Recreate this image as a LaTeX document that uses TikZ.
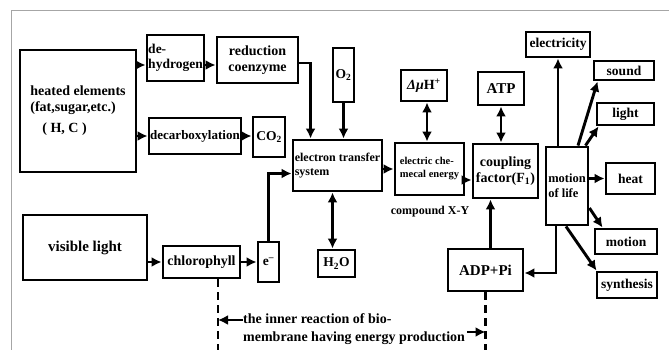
\documentclass[tikz,border=0pt]{standalone}
\usepackage{fontspec}
\setmainfont{Liberation Serif}
\usetikzlibrary{arrows.meta,positioning,calc}
\tikzset{
  bio/box/.style={draw, line width=2.9pt, inner sep=1.5pt, align=center, font=\bfseries\fontsize{14}{15.5}\selectfont},
  bio/small/.style={bio/box, font=\bfseries\fontsize{13.5}{15}\selectfont},
  bio/tiny/.style={bio/box, font=\bfseries\fontsize{10.5}{13}\selectfont},
  bio/flow/.style={line width=2.9pt, -{Latex[length=10pt,width=10pt]}},
  bio/both/.style={line width=2.9pt, {Latex[length=10pt,width=10pt]}-{Latex[length=10pt,width=10pt]}},
  bio/membrane/.style={line width=2.9pt, dash pattern=on 8pt off 5pt},
  bio/label/.style={font=\bfseries\fontsize{14}{18}\selectfont, align=left, inner sep=0pt}
}

\begin{document}
\begin{tikzpicture}[x=1pt, y=-1pt]
  \useasboundingbox (0,0) rectangle (669,350);
  \draw[gray!70, line width=1pt] (11,350) -- (11,11) -- (669,11);

  % sources
  \node[bio/box, minimum width=116pt, minimum height=122pt, align=left] (heated) at (78,111)
    {heated elements\\(fat,sugar,etc.)\\[6pt]\hspace*{12pt}( H, C )};
  \node[bio/box, minimum width=124pt, minimum height=65pt, font=\bfseries\fontsize{15}{17}\selectfont] (vis) at (85,247.5) {visible light};

  % first steps
  \node[bio/small, minimum width=57pt, minimum height=46pt, align=left, inner sep=0pt] (dehyd) at (175.5,58) {de-\\hydrogen};
  \node[bio/box, minimum width=81pt, minimum height=46pt] (reduc) at (257.5,60) {reduction\\coenzyme};
  \node[bio/small, minimum width=92pt, minimum height=36pt, inner sep=0pt, font=\bfseries\fontsize{13}{15}\selectfont] (decarb) at (195,136) {decarboxylation};
  \node[bio/small, minimum width=32pt, minimum height=40pt, inner sep=0pt] (co2) at (269,137) {CO\textsubscript{2}};
  \node[bio/box, minimum width=77pt, minimum height=32pt] (chloro) at (201.5,262) {chlorophyll};
  \node[bio/small, minimum width=21pt, minimum height=40pt, inner sep=0pt] (eminus) at (268.5,262) {e\textsuperscript{–}};

  % membrane
  \node[bio/small, minimum width=89pt, minimum height=51pt, align=left, font=\bfseries\fontsize{12}{14}\selectfont] (ets) at (337.5,165.5) {electron transfer\\system};
  \node[bio/small, minimum width=21pt, minimum height=54pt, inner sep=0pt] (o2) at (343.5,75) {O\textsubscript{2}};
  \node[bio/small, minimum width=37pt, minimum height=27pt, inner sep=0pt] (h2o) at (336.5,263.5) {H\textsubscript{2}O};
  \node[bio/tiny, minimum width=69pt, minimum height=52pt, align=left] (ece) at (429.5,169) {electric che-\\mecal energy};
  \node[bio/box, minimum width=46pt, minimum height=31pt, inner sep=0pt] (dmu) at (424,85.5) {\textit{Δμ}H\textsuperscript{+}};
  \node[font=\bfseries\fontsize{12}{14}\selectfont] (cxy) at (430,212) {compound X-Y};
  \node[bio/box, minimum width=65pt, minimum height=54pt] (coupling) at (505.5,171) {coupling\\factor(F\textsubscript{1})};
  \node[bio/box, minimum width=46pt, minimum height=33pt, font=\bfseries\fontsize{15}{17}\selectfont] (atp) at (501,88.5) {ATP};
  \node[bio/box, minimum width=75pt, minimum height=42pt, font=\bfseries\fontsize{15}{17}\selectfont] (adp) at (485.5,270) {ADP+Pi};

  % uses
  \node[bio/small, minimum width=42pt, minimum height=78pt, align=left, inner sep=1pt, font=\bfseries\fontsize{12.5}{15}\selectfont] (life) at (567,186) {motion\\of life};
  \node[bio/small, minimum width=64pt, minimum height=25pt, inner sep=0pt] (elec) at (558,44.5) {electricity};
  \node[bio/small, minimum width=60pt, minimum height=19pt, inner sep=0pt] (sound) at (624,70.5) {sound};
  \node[bio/small, minimum width=57pt, minimum height=22pt, inner sep=0pt] (light) at (625.5,114) {light};
  \node[bio/small, minimum width=49pt, minimum height=31pt, inner sep=0pt] (heat) at (630.5,178.5) {heat};
  \node[bio/small, minimum width=62pt, minimum height=25pt, inner sep=0pt] (motion) at (626,241.5) {motion};
  \node[bio/small, minimum width=60pt, minimum height=26pt, inner sep=0pt] (synth) at (627,285) {synthesis};

  % connectors
  \coordinate (dh) at ($(dehyd.west)+(0,7)$);
  \draw[bio/flow] (heated.east |- dh) -- (dh);
  \draw[bio/flow] (dehyd.east |- dh) -- (reduc.west |- dh);
  \draw[bio/flow] (heated.east |- decarb) -- (decarb.west);
  \draw[bio/flow] (decarb.east) -- (co2.west |- decarb.east);
  \coordinate (rc) at ($(reduc.east)+(0,3)$);
  \coordinate (etop) at ($(ets.north west)+(19,0)$);
  \draw[bio/flow] (rc) -| (etop);
  \draw[bio/flow] (o2.south) -- (o2.south |- ets.north);
  \coordinate (ein) at ($(ets.west)+(0,8)$);
  \draw[bio/flow] (eminus.north) |- (ein);
  \coordinate (eb) at ($(ets.south)+(-5,0)$);
  \draw[bio/both] (eb) -- (eb |- h2o.north);
  \draw[bio/flow] (vis.east |- chloro.west) -- (chloro.west);
  \draw[bio/flow] (chloro.east) -- (eminus.west);
  \draw[bio/flow] (ets.east |- ece.west) -- (ece.west);
  \coordinate (ec) at ($(coupling.west)+(0,9)$);
  \draw[bio/flow] (ece.east |- ec) -- (ec);
  \coordinate (ds) at ($(dmu.south)+(3,0)$);
  \draw[bio/both] (ds) -- (ds |- ece.north);
  \draw[bio/both] (atp.south) -- (atp.south |- coupling.north);
  \coordinate (an) at ($(adp.north)+(5,0)$);
  \draw[bio/flow] (an) -- (an |- coupling.south);
  \draw[bio/flow] (life.north -| elec) -- (elec.south);
  \draw[bio/flow] ($(life.north)+(11,0)$) -- ($(sound.south west)+(5,0)$);
  \draw[bio/flow] ($(life.north east)+(-4,0)$) -- ($(light.south west)+(3,0)$);
  \draw[bio/flow] (life.east |- heat) -- (heat.west);
  \draw[bio/flow] ($(life.east)+(0,22)$) -- ($(motion.north west)+(9,0)$);
  \draw[bio/flow] ($(life.south)+(-1,0)$) -- ($(synth.north west)+(1,0)$);
  \coordinate (ls) at ($(life.south)+(-11,0)$);
  \draw[bio/flow] (ls) |- ($(adp.east)+(0,3)$);

  % membrane boundary
  \coordinate (cbot) at (218,350);
  \coordinate (abot) at (adp.south |- cbot);
  \draw[bio/membrane] (chloro.south -| cbot) -- (cbot);
  \draw[bio/membrane] (adp.south) -- (abot);
  \node[bio/label, anchor=west] (inner) at (243,329)
    {the inner reaction of bio-\\membrane having energy production};
  \coordinate (lt) at ($(inner.west)+(0,-9)$);
  \draw[bio/flow] (lt) -- (lt -| cbot);
  \coordinate (rt) at ($(inner.east)+(2,3)$);
  \draw[bio/flow] (rt) -- (rt -| abot);
\end{tikzpicture}
\end{document}
